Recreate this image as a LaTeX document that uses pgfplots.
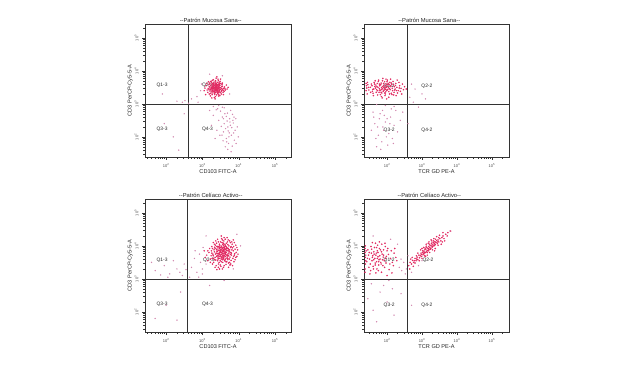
\documentclass[border=0pt]{standalone}
\usepackage{fontspec}
\setmainfont{Liberation Sans}
\usepackage{pgfplots}
\pgfplotsset{compat=1.18}
\definecolor{ptred}{RGB}{226,42,98}
\definecolor{ptlight}{RGB}{210,135,175}
\tikzset{qlab/.style={font=\fontsize{4.9}{5}\selectfont, text=black!85}}
\pgfplotsset{
 fcs/.style={
  scale only axis, height=133pt,
  ymin=1.39, ymax=5.42,
  axis line style={line width=0.5pt, black!80},
  xtick={2,3,4,5}, ytick={2,3,4,5},
  xticklabels={10\textsuperscript{2},10\textsuperscript{3},10\textsuperscript{4},10\textsuperscript{5}},
  yticklabels={10\textsuperscript{2},10\textsuperscript{3},10\textsuperscript{4},10\textsuperscript{5}},
  minor xtick={1.477,1.602,1.699,1.778,1.845,1.903,1.954,2.301,2.477,2.602,2.699,2.778,2.845,2.903,2.954,3.301,3.477,3.602,3.699,3.778,3.845,3.903,3.954,4.301,4.477,4.602,4.699,4.778,4.845,4.903,4.954,5.301},
  minor ytick={1.477,1.602,1.699,1.778,1.845,1.903,1.954,2.301,2.477,2.602,2.699,2.778,2.845,2.903,2.954,3.301,3.477,3.602,3.699,3.778,3.845,3.903,3.954,4.301,4.477,4.602,4.699,4.778,4.845,4.903,4.954,5.301},
  xtick pos=left, ytick pos=left,
  tick align=outside,
  major tick length=3pt, minor tick length=1.6pt,
  every tick/.style={black!80, line width=0.4pt},
  tick label style={font=\fontsize{4}{4.5}\selectfont, text=black!70},
  yticklabel style={rotate=90, anchor=south},
  label style={font=\fontsize{5.6}{6}\selectfont, text=black!85},
  xlabel style={at={(axis description cs:0.5,-0.065)}, anchor=north},
  ylabel style={at={(axis description cs:-0.06,0.5)}, anchor=south},
  every axis title/.style={font=\fontsize{5.8}{6}\selectfont, text=black!85, at={(axis description cs:0.45,1)}, anchor=south, inner sep=0.8pt},
 },
 dpts/.style={only marks, mark=*, color=ptred, mark size=0.55pt, mark options={draw=none, fill=ptred, fill opacity=0.8}},
 spts/.style={only marks, mark=*, color=ptlight, mark size=0.45pt, mark options={draw=none, fill=ptlight, fill opacity=0.7}},
 leftp/.style={fcs, width=146pt, xmin=1.42, xmax=5.44},
 rightp/.style={fcs, width=145pt, xmin=1.34, xmax=5.49},
}
\begin{document}
\begin{tikzpicture}
\path[use as bounding box, fill=white] (0,0) rectangle (620pt,369pt);

% Panel 1
\begin{axis}[leftp, at={(145pt,212pt)}, anchor=south west,
  title={-{}-Patrón Mucosa Sana-{}-}, xlabel={CD103 FITC-A}, ylabel={CD3 PerCP-Cy5-5-A}]
\addplot[dpts] coordinates {(3.36,3.48) (3.31,3.52) (3.42,3.45) (3.28,3.41) (3.39,3.57) (3.45,3.51) (3.33,3.39) (3.25,3.50) (3.47,3.42) (3.38,3.62) (3.30,3.46) (3.41,3.35) (3.35,3.55) (3.22,3.44) (3.50,3.49) (3.37,3.43) (3.44,3.60) (3.29,3.58) (3.34,3.31) (3.48,3.56) (3.26,3.36) (3.40,3.50) (3.32,3.66) (3.53,3.40) (3.19,3.52) (3.43,3.38) (3.36,3.70) (3.27,3.28) (3.55,3.53) (3.31,3.47) (3.46,3.46) (3.24,3.60) (3.39,3.27) (3.58,3.47) (3.21,3.39) (3.35,3.61) (3.49,3.34) (3.28,3.54) (3.42,3.65) (3.16,3.47) (3.38,3.40) (3.33,3.50) (3.51,3.62) (3.23,3.32) (3.45,3.29) (3.30,3.73) (3.56,3.44) (3.18,3.58) (3.40,3.44) (3.34,3.36) (3.47,3.50) (3.27,3.45) (3.37,3.53) (3.43,3.55) (3.32,3.42) (3.25,3.66) (3.52,3.37) (3.39,3.48) (3.29,3.33) (3.61,3.51) (3.13,3.42) (3.44,3.71) (3.36,3.22) (3.20,3.63) (3.54,3.58) (3.48,3.25) (3.31,3.59) (3.41,3.41) (3.35,3.45) (3.26,3.51) (3.46,3.66) (3.57,3.35) (3.15,3.35) (3.38,3.78) (3.33,3.19) (3.63,3.42) (3.22,3.24) (3.49,3.68) (3.10,3.55) (3.42,3.31) (3.30,3.38) (3.36,3.58) (3.44,3.47) (3.28,3.47) (3.40,3.56) (3.53,3.46) (3.24,3.42) (3.37,3.35) (3.47,3.39) (3.32,3.55) (3.66,3.57) (3.12,3.62) (3.40,3.82) (3.58,3.28) (3.07,3.48) (3.35,3.15) (3.50,3.75) (3.19,3.30) (3.45,3.24) (3.27,3.71) (3.68,3.45) (3.05,3.40) (3.43,3.52) (3.34,3.49) (3.39,3.44) (3.30,3.52) (3.47,3.58) (3.23,3.55) (3.55,3.63) (3.17,3.67) (3.60,3.38) (3.26,3.18) (3.71,3.50) (3.09,3.28)
(3.38,3.52) (3.33,3.45) (3.41,3.48) (3.36,3.40) (3.44,3.42) (3.29,3.50) (3.39,3.60) (3.35,3.35) (3.46,3.54) (3.31,3.63) (3.25,3.46) (3.50,3.44) (3.42,3.58) (3.27,3.39) (3.53,3.52) (3.37,3.66) (3.34,3.28) (3.48,3.62) (3.21,3.48) (3.57,3.40) (3.40,3.38) (3.32,3.57) (3.45,3.35) (3.28,3.62) (3.62,3.46) (3.18,3.43) (3.43,3.75) (3.52,3.30) (3.23,3.68) (3.36,3.50)};
\addplot[spts] coordinates {(3.62,2.70) (3.75,2.55) (3.70,2.30) (3.85,2.42) (3.58,2.15) (3.80,2.05) (3.66,1.95) (3.90,2.20) (3.72,1.80) (3.55,2.60) (3.83,2.68) (3.68,2.48) (3.77,2.35) (3.60,2.40) (3.88,1.90) (3.74,2.12) (3.64,2.25) (3.92,2.55) (3.50,2.78) (3.82,1.72) (3.70,1.62) (3.78,2.80) (3.96,2.30) (3.57,1.88) (3.86,2.12) (3.45,2.50) (3.40,2.20) (3.30,2.65) (3.25,2.35) (3.35,1.95) (3.20,2.80) (3.48,2.05) (3.99,2.00) (3.66,2.62) (3.73,2.00) (3.81,2.28) (3.63,1.70) (3.52,2.32) (3.93,1.80) (3.69,2.72) (3.79,1.55) (3.60,2.88) (3.87,2.60) (3.42,2.85) (3.76,2.45) (3.54,2.05) (3.71,2.18) (3.67,1.85) (3.84,2.50) (3.58,2.55) (3.30,2.92) (3.45,2.95) (3.55,2.90) (3.38,2.82) (2.45,3.05) (2.52,3.10) (2.30,3.08) (1.90,3.30) (2.70,3.15) (2.85,3.22) (2.95,3.40) (2.98,3.60) (2.88,3.05) (2.62,3.02) (2.20,2.00) (1.95,2.40) (2.35,1.60) (2.50,2.70) (3.20,3.90) (3.55,3.85) (3.75,3.30)};
\addplot[black!80, line width=0.5pt] coordinates {(2.61,1.39) (2.61,5.42)};
\addplot[black!80, line width=0.5pt] coordinates {(1.42,3) (5.44,3)};
\node[qlab] at (axis cs:1.89,3.55) {Q1-3};
\node[qlab] at (axis cs:3.14,3.55) {Q2-3};
\node[qlab] at (axis cs:1.89,2.24) {Q3-3};
\node[qlab] at (axis cs:3.14,2.24) {Q4-3};
\end{axis}

% Panel 2
\begin{axis}[rightp, at={(364pt,212pt)}, anchor=south west,
  title={-{}-Patrón Mucosa Sana-{}-}, xlabel={TCR GD PE-A}, ylabel={CD3 PerCP-Cy5-5-A}]
\addplot[dpts] coordinates {(1.94,3.48) (1.88,3.52) (2.02,3.44) (1.80,3.40) (2.10,3.55) (1.97,3.60) (1.85,3.33) (2.05,3.37) (1.74,3.50) (2.15,3.47) (1.91,3.41) (2.00,3.53) (1.68,3.57) (2.22,3.42) (1.83,3.63) (1.95,3.30) (2.08,3.65) (1.77,3.35) (2.18,3.58) (1.90,3.56) (1.62,3.45) (2.28,3.50) (1.99,3.40) (1.86,3.46) (2.12,3.32) (1.72,3.62) (2.04,3.49) (1.93,3.67) (1.58,3.38) (2.25,3.62) (1.81,3.28) (2.06,3.58) (1.96,3.36) (1.70,3.43) (2.32,3.40) (1.87,3.70) (2.14,3.28) (1.65,3.53) (2.01,3.72) (1.79,3.55) (2.20,3.35) (1.92,3.45) (1.55,3.60) (2.36,3.55) (1.84,3.22) (2.09,3.43) (1.98,3.50) (1.75,3.68) (2.26,3.25) (1.60,3.32) (2.40,3.47) (1.89,3.38) (2.03,3.62) (1.67,3.48) (2.17,3.68) (1.94,3.25) (1.52,3.50) (2.30,3.33) (1.82,3.58) (2.11,3.52) (1.73,3.27) (2.44,3.60) (1.97,3.75) (1.63,3.65) (2.23,3.45) (1.86,3.18) (2.07,3.30) (1.48,3.42) (2.38,3.38) (1.78,3.46) (2.00,3.42) (1.90,3.62) (1.69,3.35) (2.13,3.60) (1.57,3.55) (2.34,3.65) (1.84,3.50) (2.19,3.27) (1.95,3.55) (1.45,3.58) (2.47,3.43) (1.76,3.72) (2.05,3.20) (1.61,3.25) (2.29,3.72) (1.93,3.33) (1.42,3.48) (2.50,3.52) (1.71,3.52) (2.16,3.40) (1.88,3.77) (1.53,3.35) (2.42,3.30) (1.99,3.15) (1.66,3.70) (2.24,3.56) (1.80,3.42) (2.10,3.75) (1.44,3.65) (2.55,3.45) (1.40,3.40) (1.41,3.55) (1.43,3.30) (1.40,3.62) (1.47,3.50) (2.02,3.58) (1.91,3.50) (1.85,3.43) (2.07,3.46) (1.78,3.60) (2.21,3.52) (1.96,3.44) (1.73,3.40) (2.12,3.63) (1.59,3.44) (2.35,3.48) (1.83,3.35) (2.00,3.67) (1.64,3.60) (2.27,3.40)};
\addplot[spts] coordinates {(1.80,2.70) (2.00,2.55) (1.65,2.40) (1.90,2.20) (2.10,2.60) (1.75,2.05) (2.20,2.35) (1.85,1.85) (1.60,2.75) (2.05,2.10) (1.95,2.45) (1.70,1.70) (2.25,2.80) (1.88,2.30) (2.15,1.95) (1.55,2.20) (2.02,1.75) (1.78,2.55) (2.30,2.15) (1.92,2.65) (1.68,1.95) (2.08,2.40) (1.82,1.62) (2.38,2.50) (1.62,2.60) (2.12,2.85) (1.98,2.00) (1.73,2.30) (2.18,1.80) (1.87,2.80) (2.65,3.20) (2.80,3.45) (2.75,3.05) (3.00,3.30) (2.70,3.60) (3.10,3.15) (2.90,2.90) (1.95,2.95) (2.20,2.92) (1.70,2.98) (2.45,2.75) (2.60,2.40)};
\addplot[black!80, line width=0.5pt] coordinates {(2.57,1.39) (2.57,5.42)};
\addplot[black!80, line width=0.5pt] coordinates {(1.34,3) (5.49,3)};
\node[qlab] at (axis cs:2.06,3.52) {Q1-2};
\node[qlab] at (axis cs:3.14,3.52) {Q2-2};
\node[qlab] at (axis cs:2.06,2.20) {Q3-2};
\node[qlab] at (axis cs:3.14,2.20) {Q4-2};
\end{axis}

% Panel 3
\begin{axis}[leftp, at={(145pt,37pt)}, anchor=south west,
  title={-{}-Patrón Celíaco Activo-{}-}, xlabel={CD103 FITC-A}, ylabel={CD3 PerCP-Cy5-5-A}]
\addplot[dpts] coordinates {(3.56,3.82) (3.50,3.88) (3.63,3.76) (3.45,3.72) (3.60,3.95) (3.68,3.85) (3.52,3.66) (3.40,3.90) (3.72,3.70) (3.58,4.02) (3.48,3.80) (3.65,3.62) (3.55,3.92) (3.38,3.78) (3.75,3.88) (3.53,3.74) (3.62,4.05) (3.44,3.98) (3.70,3.58) (3.57,3.86) (3.35,3.65) (3.78,3.95) (3.49,3.55) (3.66,3.93) (3.42,3.84) (3.61,3.70) (3.54,4.10) (3.80,3.78) (3.32,3.88) (3.59,3.60) (3.47,4.05) (3.73,4.00) (3.51,3.79) (3.64,3.81) (3.37,3.57) (3.85,3.85) (3.56,3.50) (3.43,3.94) (3.69,4.12) (3.29,3.75) (3.76,3.66) (3.53,3.99) (3.60,3.88) (3.46,3.68) (3.82,4.05) (3.39,4.08) (3.67,3.52) (3.50,3.95) (3.58,3.72) (3.27,3.62) (3.88,3.72) (3.44,3.45) (3.71,3.92) (3.55,4.18) (3.34,3.96) (3.63,3.68) (3.48,3.86) (3.79,3.56) (3.41,3.70) (3.66,4.08) (3.57,3.78) (3.31,3.50) (3.90,3.90) (3.52,3.60) (3.74,3.82) (3.36,4.02) (3.62,3.98) (3.45,3.62) (3.84,3.62) (3.25,3.85) (3.59,4.15) (3.70,3.75) (3.49,3.42) (3.77,4.10) (3.40,3.82) (3.54,3.85) (3.68,3.66) (3.30,3.70) (3.86,3.98) (3.47,3.92) (3.61,3.55) (3.22,3.60) (3.93,3.80) (3.53,4.22) (3.38,3.40) (3.72,3.48) (3.44,4.12) (3.64,3.90) (3.57,3.68) (3.81,3.88) (3.33,3.82) (3.50,3.72) (3.75,4.15) (3.42,3.55) (3.66,3.80) (3.20,3.92) (3.95,3.68) (3.58,3.35) (3.48,4.00) (3.87,3.52) (3.28,3.45) (3.63,4.20) (3.36,3.75) (3.71,3.85) (3.55,3.58) (3.46,3.78) (3.80,3.72) (3.39,3.88) (3.60,3.76) (3.52,3.90) (3.67,3.95) (3.43,3.66) (3.74,3.60) (3.58,3.96) (3.35,3.92) (3.89,3.76) (3.24,3.70) (3.65,3.44) (3.50,4.12) (3.78,3.80) (3.41,3.98) (3.62,3.84) (3.54,3.64) (3.70,4.04) (3.31,3.62) (3.83,3.94) (3.46,3.50) (3.57,3.90) (3.69,3.70) (3.18,3.80) (3.97,3.88) (3.51,3.38) (3.76,3.42) (3.37,4.15) (3.60,4.25) (3.44,3.35) (3.92,4.02) (3.26,3.98) (3.15,3.55) (3.12,3.72) (3.08,3.65) (3.05,3.85) (3.90,3.58) (3.72,3.35) (3.55,3.30) (3.40,3.28) (3.85,4.18) (3.64,3.74) (3.49,3.82) (3.59,3.64) (3.53,3.80) (3.66,3.87) (3.45,3.87) (3.61,3.92) (3.56,3.70) (3.73,3.78) (3.48,3.74) (3.58,3.84)
(3.30,4.10) (3.88,4.10) (3.95,3.95) (3.22,3.50) (3.35,3.35) (3.78,3.45) (3.83,3.40) (3.42,4.20) (3.68,4.25) (3.52,4.30) (3.98,3.75) (3.15,3.85) (3.28,3.92) (3.60,3.40) (3.47,3.30) (3.75,3.50) (3.92,3.65) (3.33,4.05) (3.58,4.08) (3.71,4.18) (3.63,3.58) (3.51,3.68) (3.45,3.76) (3.67,3.72) (3.55,3.76) (3.62,3.80) (3.50,3.84) (3.59,3.88) (3.54,3.95) (3.65,3.98) (3.69,3.92) (3.47,3.96) (3.41,3.76) (3.73,3.88) (3.57,3.62) (3.77,3.74) (3.43,3.60) (3.39,3.68) (3.63,4.02) (3.56,4.05) (3.79,3.98) (3.81,4.12) (3.34,3.58) (3.26,3.78) (3.86,3.68) (3.70,3.62) (3.52,3.52) (3.65,3.52) (3.40,3.98) (3.48,3.62)};
\addplot[spts] coordinates {(1.70,3.25) (1.95,3.40) (2.10,3.15) (2.30,3.30) (2.45,3.10) (2.20,3.55) (1.85,3.12) (2.50,3.45) (2.38,3.20) (2.05,3.05) (1.60,3.50) (2.55,3.28) (2.70,3.35) (2.85,3.20) (2.95,3.50) (2.78,3.62) (3.00,3.30) (2.90,3.05) (3.02,3.95) (2.92,3.75) (3.10,4.30) (3.95,4.35) (4.05,4.00) (3.85,3.30) (2.40,2.60) (2.00,2.20) (1.70,1.80) (2.30,1.75) (3.20,2.80) (3.60,2.95) (2.80,3.85) (3.10,3.45) (3.00,3.15) (2.65,3.05)};
\addplot[black!80, line width=0.5pt] coordinates {(2.59,1.39) (2.59,5.42)};
\addplot[black!80, line width=0.5pt] coordinates {(1.42,3) (5.44,3)};
\node[qlab] at (axis cs:1.89,3.55) {Q1-3};
\node[qlab] at (axis cs:3.17,3.55) {Q2-3};
\node[qlab] at (axis cs:1.89,2.24) {Q3-3};
\node[qlab] at (axis cs:3.14,2.24) {Q4-3};
\end{axis}

% Panel 4
\begin{axis}[rightp, at={(364pt,37pt)}, anchor=south west,
  title={-{}-Patrón Celíaco Activo-{}-}, xlabel={TCR GD PE-A}, ylabel={CD3 PerCP-Cy5-5-A}]
\addplot[dpts] coordinates {(1.74,3.67) (1.68,3.72) (1.80,3.60) (1.62,3.58) (1.86,3.75) (1.72,3.85) (1.58,3.65) (1.92,3.55) (1.66,3.48) (1.78,3.92) (1.55,3.78) (1.98,3.68) (1.70,3.52) (1.84,3.82) (1.50,3.60) (2.04,3.74) (1.64,3.95) (1.76,3.42) (1.90,3.88) (1.52,3.45) (2.10,3.62) (1.69,3.78) (1.82,3.50) (1.47,3.72) (1.95,3.98) (1.60,3.38) (2.15,3.50) (1.73,4.02) (1.88,3.40) (1.45,3.88) (2.00,3.85) (1.57,3.55) (1.79,3.70) (1.65,3.62) (2.20,3.78) (1.42,3.52) (1.93,3.35) (1.71,3.30) (1.85,4.05) (1.54,3.98) (2.08,3.45) (1.62,3.82) (1.77,3.58) (1.48,3.35) (2.25,3.65) (1.67,4.08) (1.96,3.62) (1.59,3.70) (2.02,3.92) (1.75,3.25) (1.44,3.62) (1.89,3.66) (2.12,3.85) (1.53,3.25) (1.81,3.88) (1.66,3.42) (2.18,3.40) (1.70,3.95) (1.90,3.72) (1.56,3.90) (2.06,3.28) (1.63,3.75) (1.83,3.45) (1.49,3.80) (2.22,3.92) (1.74,3.80) (1.97,3.48) (1.61,3.30) (1.87,3.58) (1.72,3.62) (1.38,3.65) (1.37,3.80) (1.38,3.45) (1.37,3.92) (1.39,3.55) (1.37,3.30) (1.38,4.00) (1.39,3.72) (1.37,3.20) (1.40,3.85) (1.78,4.12) (1.58,4.10) (2.28,3.55) (1.94,4.08) (1.68,3.18) (2.14,3.18) (1.84,3.20) (1.51,3.15) (2.00,3.10) (1.76,3.52)
(2.62,3.40) (2.66,3.50) (2.70,3.45) (2.73,3.56) (2.76,3.50) (2.80,3.62) (2.83,3.55) (2.86,3.66) (2.88,3.58) (2.91,3.72) (2.93,3.64) (2.95,3.70) (2.97,3.78) (2.99,3.68) (3.01,3.80) (3.03,3.73) (3.05,3.84) (3.06,3.76) (3.08,3.88) (3.10,3.80) (3.11,3.90) (3.13,3.84) (3.14,3.95) (3.16,3.86) (3.17,3.92) (3.19,3.98) (3.20,3.88) (3.22,3.95) (3.23,4.02) (3.25,3.92) (3.26,4.00) (3.28,4.06) (3.29,3.96) (3.31,4.03) (3.32,4.10) (3.34,4.00) (3.35,4.08) (3.37,4.13) (3.38,4.04) (3.40,4.10) (3.42,4.16) (3.44,4.07) (3.46,4.18) (3.48,4.12) (3.51,4.22) (3.54,4.15) (3.57,4.25) (3.60,4.30) (3.63,4.22) (3.68,4.35) (3.74,4.40) (3.12,3.99) (3.18,3.85) (3.24,3.90) (3.27,4.08) (3.30,3.98) (3.15,3.80) (3.09,3.93) (3.21,4.05) (3.36,4.02) (3.04,3.78) (2.98,3.74) (3.33,4.15) (3.39,4.20) (2.85,3.60) (2.78,3.55) (3.45,4.12) (3.02,3.85) (3.07,3.81) (3.19,3.91)
(2.65,3.30) (2.72,3.65) (2.80,3.48) (2.88,3.78) (2.92,3.55) (2.96,3.88) (3.00,3.62) (3.05,3.95) (3.08,3.70) (3.12,4.05) (3.15,3.72) (3.20,4.12) (3.22,3.80) (3.26,4.18) (3.30,3.88) (3.34,4.22) (3.38,3.92) (3.42,4.28) (3.46,4.02) (3.50,4.32) (3.55,4.05) (3.60,4.40) (3.65,4.15) (3.72,4.30) (3.82,4.45) (2.75,3.38) (2.84,3.70) (3.10,3.68) (3.28,4.15) (3.36,3.85) (2.68,3.60) (3.00,3.92) (3.18,4.08) (3.48,4.25) (3.58,4.12)};
\addplot[spts] coordinates {(2.35,3.35) (2.42,3.25) (2.48,3.50) (2.55,3.30) (2.40,3.60) (2.52,3.15) (1.80,2.60) (2.00,2.30) (1.60,2.05) (2.20,1.90) (1.90,2.80) (2.40,2.55) (2.70,2.20) (1.70,1.70) (1.55,2.85) (2.15,2.70) (2.70,3.20) (2.90,3.40) (3.00,3.55) (2.60,3.70) (2.30,4.05) (2.10,4.20) (1.60,4.30) (3.80,4.45) (2.05,2.95) (1.45,2.40)};
\addplot[black!80, line width=0.5pt] coordinates {(2.57,1.39) (2.57,5.42)};
\addplot[black!80, line width=0.5pt] coordinates {(1.34,3) (5.49,3)};
\node[qlab] at (axis cs:2.06,3.55) {Q1-2};
\node[qlab] at (axis cs:3.17,3.55) {Q2-2};
\node[qlab] at (axis cs:2.06,2.21) {Q3-2};
\node[qlab] at (axis cs:3.14,2.21) {Q4-2};
\end{axis}
\end{tikzpicture}
\end{document}
